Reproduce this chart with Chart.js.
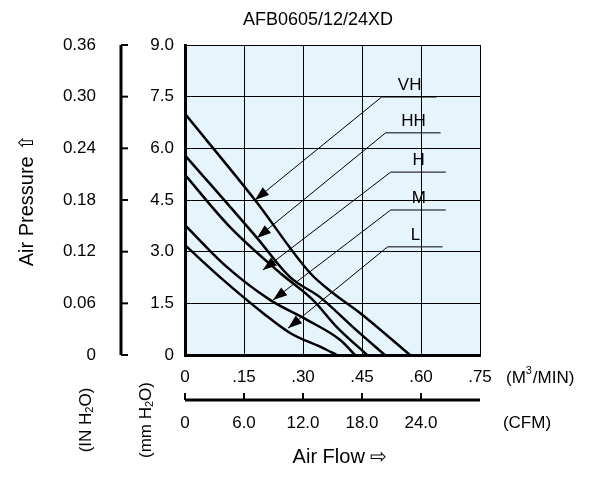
<!DOCTYPE html>
<html>
<head>
<meta charset="utf-8">
<script src="https://cdn.jsdelivr.net/npm/chart.js@4.4.0/dist/chart.umd.min.js"></script>
<style>
  html, body { margin: 0; padding: 0; background: #fff; }
  #wrap { width: 589px; height: 482px; }
</style>
</head>
<body>
<div id="wrap"><canvas id="myChart" width="589" height="482"></canvas></div>
<script>
// air flow (m3/min) vs static pressure (mm H2O)
const vhFlow = [0, 0.178, 0.318, 0.376, 0.445, 0.572];
const vhPres = [7.0, 4.5, 2.38, 1.8, 1.22, 0];
const hhFlow = [0, 0.183, 0.267, 0.343, 0.427, 0.508];
const hhPres = [5.8, 3.4, 2.26, 1.68, 0.81, 0];
const hFlow = [0, 0.114, 0.242, 0.325, 0.386, 0.463];
const hPres = [5.23, 3.72, 2.38, 1.6, 0.81, 0];
const mFlow = [0, 0.107, 0.216, 0.31, 0.394, 0.432];
const mPres = [3.77, 2.55, 1.6, 1.02, 0.44, 0];
const lFlow = [0, 0.097, 0.198, 0.267, 0.351, 0.386];
const lPres = [3.19, 2.18, 1.22, 0.64, 0.2, 0];

const speedNames = ['VH', 'HH', 'H', 'M', 'L'];
const mmTicks = ['0', '1.5', '3.0', '4.5', '6.0', '7.5', '9.0'];
const inchTicks = ['0', '0.06', '0.12', '0.18', '0.24', '0.30', '0.36'];
const m3Ticks = ['0', '.15', '.30', '.45', '.60', '.75'];
const cfmTicks = ['0', '6.0', '12.0', '18.0', '24.0'];

// label leaders: underline start (flow, mm) and arrow tip (flow, mm)
const leaderStart = [[0.5, 7.49], [0.51, 6.45], [0.523, 5.31], [0.523, 4.21], [0.515, 3.14]];
const leaderTip = [[0.178, 4.5], [0.183, 3.4], [0.198, 2.47], [0.224, 1.6], [0.262, 0.78]];

const curves = [[vhFlow, vhPres], [hhFlow, hhPres], [hFlow, hPres], [mFlow, mPres], [lFlow, lPres]];

const FONT = '"Liberation Sans", Arial, sans-serif';
const F = '17px ' + FONT;

const extras = {
    id: 'extras',
    beforeDraw(chart) {
        const { ctx, chartArea: a } = chart;
        ctx.save();
        ctx.fillStyle = '#e6f4fb';
        ctx.fillRect(a.left, a.top, a.right - a.left, a.bottom - a.top);
        ctx.restore();
    },
    afterDraw(chart) {
        const { ctx, chartArea: a } = chart;
        const xs = chart.scales.x, ys = chart.scales.y;
        ctx.save();
        ctx.fillStyle = '#000';
        ctx.strokeStyle = '#000';
        ctx.font = F;

        // title
        ctx.textAlign = 'center';
        ctx.textBaseline = 'middle';
        ctx.font = '18px ' + FONT;
        ctx.fillText('AFB0605/12/24XD', 318, 20);
        ctx.font = F;

        // mm axis labels
        ctx.textAlign = 'right';
        mmTicks.forEach((t, i) => ctx.fillText(t, 174, ys.getPixelForValue(i * 1.5)));
        // inch axis
        ctx.lineWidth = 3;
        ctx.beginPath();
        ctx.moveTo(121, a.top); ctx.lineTo(121, a.bottom); ctx.stroke();
        ctx.lineWidth = 2;
        inchTicks.forEach((t, i) => {
            const y = ys.getPixelForValue(i * 1.5);
            ctx.beginPath(); ctx.moveTo(121, y); ctx.lineTo(128, y); ctx.stroke();
            ctx.fillText(t, 96, y);
        });

        // m3/min labels
        ctx.textAlign = 'center';
        m3Ticks.forEach((t, i) => ctx.fillText(t, xs.getPixelForValue(i * 0.15), 377));
        ctx.textAlign = 'left';
        ctx.fillText('(M', 506, 378);
        let w = ctx.measureText('(M').width;
        ctx.font = '11px ' + FONT;
        ctx.fillText('3', 506 + w, 371);
        ctx.font = F;
        ctx.fillText('/MIN)', 506 + w + 7, 378);

        // CFM axis
        ctx.lineWidth = 3;
        ctx.beginPath(); ctx.moveTo(a.left, 400); ctx.lineTo(a.right, 400); ctx.stroke();
        ctx.lineWidth = 2;
        ctx.textAlign = 'center';
        cfmTicks.forEach((t, i) => {
            const x = xs.getPixelForValue(i * 0.15);
            ctx.beginPath(); ctx.moveTo(x, 400); ctx.lineTo(x, 393); ctx.stroke();
            ctx.fillText(t, x, 423);
        });
        ctx.fillText('(CFM)', 527, 423);

        // axis titles
        ctx.font = '20px ' + FONT;
        ctx.fillText('Air Flow \u21E8', 340, 457);
        ctx.save();
        ctx.translate(27, 200);
        ctx.rotate(-Math.PI / 2);
        ctx.fillText('Air Pressure \u21E7', 0, 0);
        ctx.restore();
        [[86, '(IN H', 'O)'], [146, '(mm H', 'O)']].forEach(([x, s1, s2]) => {
            ctx.save();
            ctx.translate(x, 420);
            ctx.rotate(-Math.PI / 2);
            ctx.font = F;
            const w1 = ctx.measureText(s1).width;
            ctx.font = '11px ' + FONT;
            const w2 = ctx.measureText('2').width;
            ctx.font = F;
            const w3 = ctx.measureText(s2).width;
            let x0 = -(w1 + w2 + w3) / 2;
            ctx.textAlign = 'left';
            ctx.fillText(s1, x0, 0);
            ctx.font = '11px ' + FONT;
            ctx.fillText('2', x0 + w1, 4);
            ctx.font = F;
            ctx.fillText(s2, x0 + w1 + w2, 0);
            ctx.restore();
        });

        // leaders and speed labels
        ctx.font = F;
        ctx.lineWidth = 1;
        speedNames.forEach((name, i) => {
            const sx = xs.getPixelForValue(leaderStart[i][0]);
            const sy = ys.getPixelForValue(leaderStart[i][1]);
            const tx = xs.getPixelForValue(leaderTip[i][0]);
            const ty = ys.getPixelForValue(leaderTip[i][1]);
            ctx.beginPath();
            ctx.moveTo(sx + 55, sy); ctx.lineTo(sx, sy); ctx.lineTo(tx, ty); ctx.stroke();
            const ang = Math.atan2(ty - sy, tx - sx);
            ctx.save();
            ctx.translate(tx, ty);
            ctx.rotate(ang);
            ctx.beginPath();
            ctx.moveTo(0, 0); ctx.lineTo(-14, -5); ctx.lineTo(-14, 5); ctx.closePath();
            ctx.fill();
            ctx.restore();
            ctx.textAlign = 'center';
            ctx.textBaseline = 'bottom';
            ctx.fillText(name, sx + 28, sy - 3);
        });
        ctx.restore();
    }
};

const ctx = document.getElementById('myChart').getContext('2d');
const myChart = new Chart(ctx, {
    type: 'scatter',
    data: {
        datasets: curves.map((c, i) => ({
            label: speedNames[i],
            data: c[0].map((f, j) => ({ x: f, y: c[1][j] })),
            showLine: true,
            borderColor: '#000',
            borderWidth: 2.5,
            pointRadius: 0,
            cubicInterpolationMode: 'monotone',
            fill: false
        }))
    },
    options: {
        responsive: false,
        animation: false,
        layout: { padding: { left: 185, right: 109, top: 45, bottom: 127 } },
        plugins: { legend: { display: false }, tooltip: { enabled: false } },
        scales: {
            x: {
                type: 'linear', min: 0, max: 0.75,
                ticks: { display: false, stepSize: 0.15 },
                grid: { color: '#000', lineWidth: 1, drawTicks: false },
                border: { color: '#000', width: 3 }
            },
            y: {
                type: 'linear', min: 0, max: 9,
                ticks: { display: false, stepSize: 1.5 },
                grid: { color: '#000', lineWidth: 1, drawTicks: false },
                border: { color: '#000', width: 3 }
            }
        }
    },
    plugins: [extras]
});
</script>
</body>
</html>
